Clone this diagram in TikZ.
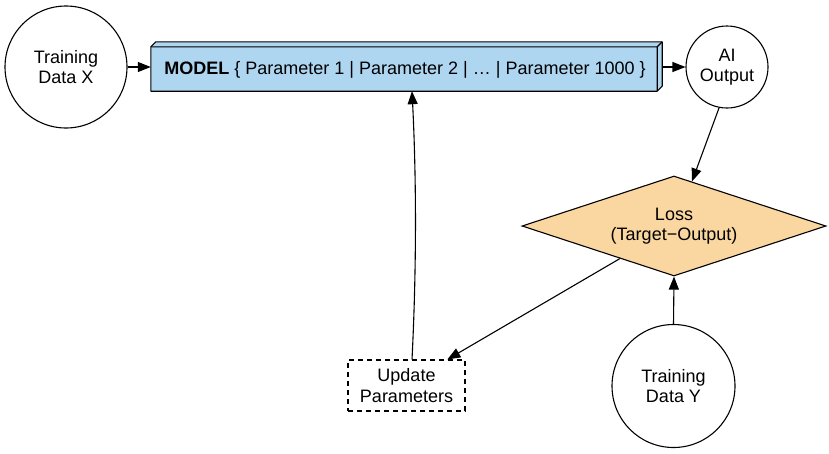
\documentclass[tikz,border=0pt]{standalone}
\usepackage{fontspec}
\setmainfont{Liberation Sans}
\usetikzlibrary{arrows.meta,shapes.geometric,calc}
\definecolor{modelblue}{RGB}{174,214,241}
\definecolor{lossorange}{RGB}{250,215,160}
\begin{document}
\begin{tikzpicture}[x=1pt,y=-1pt,
  every node/.style={font=\fontsize{18}{20.5}\selectfont, inner sep=0pt},
  circ/.style={circle, draw, line width=1.1pt, align=center, minimum size=#1},
  arr/.style={-{Triangle[length=13pt,width=10pt]}, line width=1.1pt},
  updbox/.style={draw, line width=1.1pt, dash pattern=on 5pt off 4pt, align=center, minimum width=117pt, minimum height=51pt},
  lossbox/.style={diamond, aspect=3.04, draw, line width=1.1pt, fill=lossorange, align=center, minimum width=304pt, minimum height=100pt}
]
\useasboundingbox (0,0) rectangle (829,453);

% nodes
\node[circ=122pt] (x) at (66,67) {Training\\Data X};
\node[minimum width=511pt, minimum height=49pt] (model) at (406.5,66.5) {};
\draw[line width=1.1pt, fill=modelblue, line join=round]
  ($(model.north west)+(0,5)$) -- ($(model.north west)+(5,0)$) -- (model.north east)
  -- ($(model.south east)+(0,-5)$) -- ($(model.south east)+(-5,0)$) -- (model.south west) -- cycle;
\draw[line width=1.1pt, line join=round]
  ($(model.north west)+(0,5)$) -- ($(model.north east)+(-5,5)$) -- ($(model.south east)+(-5,0)$)
  ($(model.north east)+(-5,5)$) -- (model.north east);
\node (modeltext) at (405,69.5) {\textbf{MODEL} \{ Parameter 1 | Parameter 2 | … | Parameter 1000 \}};
\node[circ=82pt] (ai) at (727,67) {AI\\Output};
\node[lossbox] (loss) at (674,226) {Loss\\(Target−Output)};
\node[circ=123pt] (y) at (673.5,386) {Training\\Data Y};
\node[updbox] (upd) at (406.5,385.5) {Update\\Parameters};

% connectors
\draw[arr] (x.east) -- (model.west |- x.east);
\draw[arr] (model.east |- ai.west) -- (ai.west);
\draw[arr] (ai.-101) -- ($(loss.north)!0.118!(loss.east)$);
\draw[arr] ($(loss.south)!0.355!(loss.west)$) -- ($(upd.north west)!0.846!(upd.north east)$);
\draw[arr] ($(upd.north)+(5.5,0)$) .. controls ($(upd.north)+(10,-90)$) and ($(model.south)+(10,90)$) .. ($(model.south)+(5.5,0)$);
\draw[arr] (y.north) -- (loss.south);
\end{tikzpicture}
\end{document}
